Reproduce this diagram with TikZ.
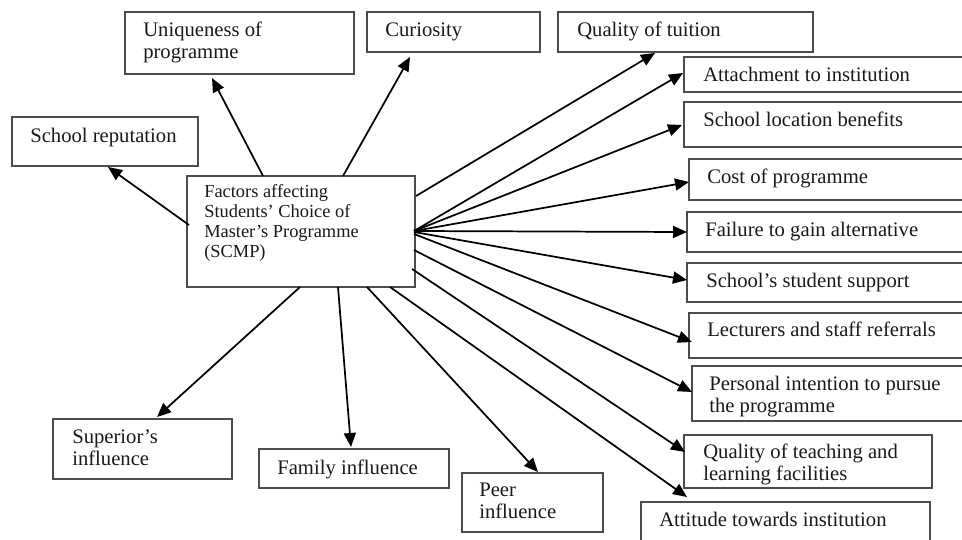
\documentclass[tikz,border=0pt]{standalone}
\usepackage{fontspec}
\setmainfont{Liberation Serif}
\usetikzlibrary{fit,arrows.meta}
\begin{document}
\begin{tikzpicture}[x=0.75pt,y=-0.75pt,
  box/.style={draw=black!70, line width=1.1pt, inner sep=0pt},
  lbl/.style={anchor=base west, inner sep=0pt, align=left, text=black!90,
    font=\fontsize{15.5}{16.5}\selectfont},
  clbl/.style={anchor=base west, inner sep=0pt, align=left, text=black!90,
    font=\fontsize{13.8}{15}\selectfont},
  arr/.style={line width=1.3pt, -{Triangle[length=10.5pt,width=9pt]}}]
\useasboundingbox (0,0) rectangle (962,539);
% boxes
\node[box, fit={(187,176) (415,287)}] (ctr) {};
\node[box, fit={(12,117) (198,166)}] (rep) {};
\node[box, fit={(125,12) (354,74)}] (uniq) {};
\node[box, fit={(367,12) (540,52)}] (cur) {};
\node[box, fit={(558,12) (813,52)}] (tuit) {};
\node[box, fit={(684,57) (975,92)}] (att) {};
\node[box, fit={(684,102) (975,147)}] (loc) {};
\node[box, fit={(689,159) (975,200)}] (cost) {};
\node[box, fit={(687,212) (975,252)}] (fail) {};
\node[box, fit={(687,263) (975,302)}] (supp) {};
\node[box, fit={(689,313) (975,358)}] (lect) {};
\node[box, fit={(692,366) (975,421)}] (pers) {};
\node[box, fit={(684,435) (932,488)}] (qual) {};
\node[box, fit={(641,502) (930,548)}] (atti) {};
\node[box, fit={(462,473) (603,532)}] (peer) {};
\node[box, fit={(259,449) (449,488)}] (fam) {};
\node[box, fit={(53,419) (232,479)}] (sup) {};
% texts (multi-line texts are placed by the baseline of their last line)
\node[clbl] (tctr) at (204,257) {Factors affecting\\Students' Choice of\\Master's Programme\\(SCMP)};
\node[lbl] (trep) at (30,142) {School reputation};
\node[lbl] (tuniq) at (143,58) {Uniqueness of\\programme};
\node[lbl] (tcur) at (385,36) {Curiosity};
\node[lbl] (ttuit) at (577,36) {Quality of tuition};
\node[lbl] (tatt) at (703,81) {Attachment to institution};
\node[lbl] (tloc) at (703,126) {School location benefits};
\node[lbl] (tcost) at (707,183) {Cost of programme};
\node[lbl] (tfail) at (705,236) {Failure to gain alternative};
\node[lbl] (tsupp) at (706,287) {School's student support};
\node[lbl] (tlect) at (707,336) {Lecturers and staff referrals};
\node[lbl] (tpers) at (709,412) {Personal intention to pursue\\the programme};
\node[lbl] (tqual) at (703,480) {Quality of teaching and\\learning facilities};
\node[lbl] (tatti) at (659,526) {Attitude towards institution};
\node[lbl] (tpeer) at (479,518) {Peer\\influence};
\node[lbl] (tfam) at (277,474) {Family influence};
\node[lbl] (tsup) at (72,465) {Superior's\\influence};
% connector end points
\coordinate (s-rep) at (189,225);  \coordinate (e-rep) at (108,167);
\coordinate (s-uniq) at (263,176); \coordinate (e-uniq) at (212,78);
\coordinate (s-cur) at (343,176);  \coordinate (e-cur) at (410,57);
\coordinate (s-tuit) at (416,196); \coordinate (e-tuit) at (655,53);
\coordinate (s-hub) at (414,231);
\coordinate (e-att) at (683,73);
\coordinate (e-loc) at (682,125);
\coordinate (e-cost) at (689,182);
\coordinate (e-fail) at (687,232);
\coordinate (s-supp) at (414,232); \coordinate (e-supp) at (687,280);
\coordinate (s-lect) at (414,234); \coordinate (e-lect) at (692,342);
\coordinate (s-pers) at (414,250); \coordinate (e-pers) at (692,392);
\coordinate (s-qual) at (412,269); \coordinate (e-qual) at (685,452);
\coordinate (s-atti) at (390,287); \coordinate (e-atti) at (687,497);
\coordinate (s-peer) at (367,287); \coordinate (e-peer) at (538,472);
\coordinate (s-fam) at (338,287);  \coordinate (e-fam) at (351,447);
\coordinate (s-sup) at (300,287);  \coordinate (e-sup) at (157,417);
% connectors
\draw[arr] (s-rep) -- (e-rep);
\draw[arr] (s-uniq) -- (e-uniq);
\draw[arr] (s-cur) -- (e-cur);
\draw[arr] (s-tuit) -- (e-tuit);
\draw[arr] (s-hub) -- (e-att);
\draw[arr] (s-hub) -- (e-loc);
\draw[arr] (s-hub) -- (e-cost);
\draw[arr] (s-hub) -- (e-fail);
\draw[arr] (s-supp) -- (e-supp);
\draw[arr] (s-lect) -- (e-lect);
\draw[arr] (s-pers) -- (e-pers);
\draw[arr] (s-qual) -- (e-qual);
\draw[arr] (s-atti) -- (e-atti);
\draw[arr] (s-peer) -- (e-peer);
\draw[arr] (s-fam) -- (e-fam);
\draw[arr] (s-sup) -- (e-sup);
\end{tikzpicture}
\end{document}
